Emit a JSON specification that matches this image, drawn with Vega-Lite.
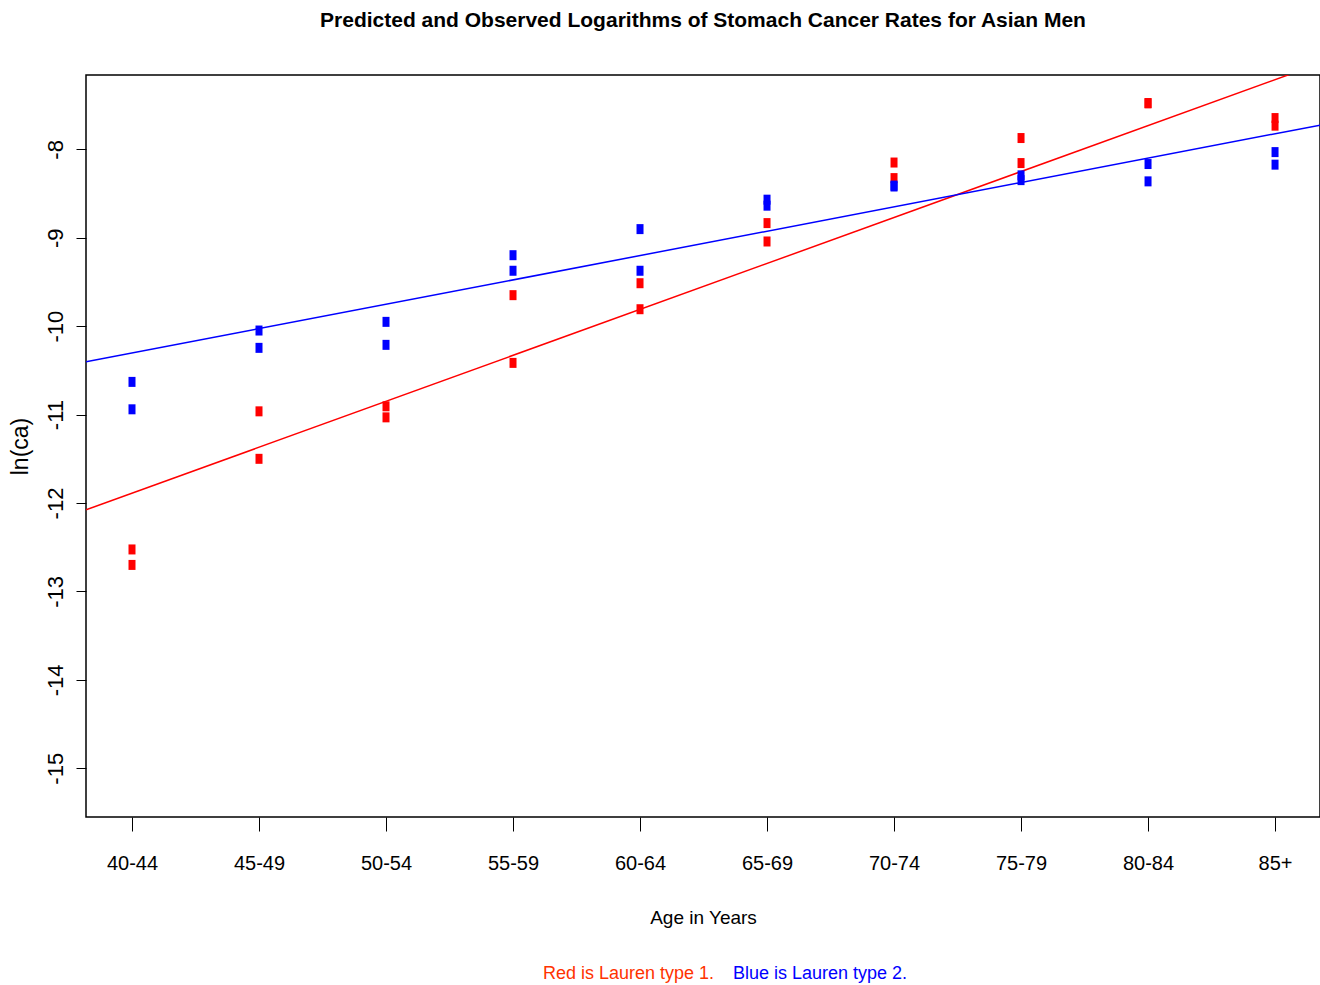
{
  "$schema": "https://vega.github.io/schema/vega-lite/v6.json",
  "autosize": {"type": "none"},
  "width": 1234,
  "height": 742,
  "padding": {"left": 86, "top": 75, "right": 0, "bottom": 168},
  "background": "white",
  "config": {
    "view": {"stroke": "black", "strokeWidth": 1.5},
    "axis": {"grid": false, "domain": false, "tickColor": "black", "tickWidth": 1, "labelColor": "black", "titleColor": "black"}
  },
  "title": {
    "text": "Predicted and Observed Logarithms of Stomach Cancer Rates for Asian Men",
    "font": "Liberation Sans",
    "fontWeight": "bold",
    "fontSize": 21,
    "color": "black",
    "anchor": "middle",
    "baseline": "bottom",
    "offset": 23
  },
  "datasets": {
    "obs": [
      {"idx": 1, "age": "40-44", "type": "1", "lnca": -12.525},
      {"idx": 1, "age": "40-44", "type": "1", "lnca": -12.70},
      {"idx": 1, "age": "40-44", "type": "2", "lnca": -10.63},
      {"idx": 1, "age": "40-44", "type": "2", "lnca": -10.94},
      {"idx": 2, "age": "45-49", "type": "1", "lnca": -10.963},
      {"idx": 2, "age": "45-49", "type": "1", "lnca": -11.50},
      {"idx": 2, "age": "45-49", "type": "2", "lnca": -10.049},
      {"idx": 2, "age": "45-49", "type": "2", "lnca": -10.245},
      {"idx": 3, "age": "50-54", "type": "1", "lnca": -10.906},
      {"idx": 3, "age": "50-54", "type": "1", "lnca": -11.031},
      {"idx": 3, "age": "50-54", "type": "2", "lnca": -9.951},
      {"idx": 3, "age": "50-54", "type": "2", "lnca": -10.211},
      {"idx": 4, "age": "55-59", "type": "1", "lnca": -9.649},
      {"idx": 4, "age": "55-59", "type": "1", "lnca": -10.415},
      {"idx": 4, "age": "55-59", "type": "2", "lnca": -9.197},
      {"idx": 4, "age": "55-59", "type": "2", "lnca": -9.373},
      {"idx": 5, "age": "60-64", "type": "1", "lnca": -9.514},
      {"idx": 5, "age": "60-64", "type": "1", "lnca": -9.808},
      {"idx": 5, "age": "60-64", "type": "2", "lnca": -8.902},
      {"idx": 5, "age": "60-64", "type": "2", "lnca": -9.373},
      {"idx": 6, "age": "65-69", "type": "1", "lnca": -8.834},
      {"idx": 6, "age": "65-69", "type": "1", "lnca": -9.042},
      {"idx": 6, "age": "65-69", "type": "2", "lnca": -8.569},
      {"idx": 6, "age": "65-69", "type": "2", "lnca": -8.637},
      {"idx": 7, "age": "70-74", "type": "1", "lnca": -8.149},
      {"idx": 7, "age": "70-74", "type": "1", "lnca": -8.325},
      {"idx": 7, "age": "70-74", "type": "2", "lnca": -8.41},
      {"idx": 7, "age": "70-74", "type": "2", "lnca": -8.42},
      {"idx": 8, "age": "75-79", "type": "1", "lnca": -7.872},
      {"idx": 8, "age": "75-79", "type": "1", "lnca": -8.155},
      {"idx": 8, "age": "75-79", "type": "2", "lnca": -8.294},
      {"idx": 8, "age": "75-79", "type": "2", "lnca": -8.348},
      {"idx": 9, "age": "80-84", "type": "1", "lnca": -7.476},
      {"idx": 9, "age": "80-84", "type": "1", "lnca": -7.48},
      {"idx": 9, "age": "80-84", "type": "2", "lnca": -8.166},
      {"idx": 9, "age": "80-84", "type": "2", "lnca": -8.362},
      {"idx": 10, "age": "85+", "type": "1", "lnca": -7.646},
      {"idx": 10, "age": "85+", "type": "1", "lnca": -7.732},
      {"idx": 10, "age": "85+", "type": "2", "lnca": -8.031},
      {"idx": 10, "age": "85+", "type": "2", "lnca": -8.173}
    ],
    "fit": [
      {"idx": 0.6378, "type": "1", "lnca": -12.077},
      {"idx": 10.354, "type": "1", "lnca": -7.028},
      {"idx": 0.6378, "type": "2", "lnca": -10.403},
      {"idx": 10.354, "type": "2", "lnca": -7.726}
    ]
  },
  "encoding": {
    "x": {
      "field": "idx",
      "type": "quantitative",
      "scale": {"domain": [0.6378, 10.354], "nice": false, "zero": false},
      "axis": {
        "title": "Age in Years",
        "values": [1, 2, 3, 4, 5, 6, 7, 8, 9, 10],
        "labelExpr": "['40-44','45-49','50-54','55-59','60-64','65-69','70-74','75-79','80-84','85+'][datum.value - 1]",
        "tickSize": 14,
        "labelPadding": 22,
        "labelFont": "Liberation Sans",
        "labelFontSize": 20,
        "labelFlush": false,
        "labelOverlap": false,
        "titleFont": "Liberation Sans",
        "titleFontSize": 19,
        "titleFontWeight": "normal",
        "titlePadding": 35
      }
    },
    "y": {
      "field": "lnca",
      "type": "quantitative",
      "scale": {"domain": [-15.551, -7.159], "nice": false, "zero": false},
      "axis": {
        "title": "ln(ca)",
        "values": [-15, -14, -13, -12, -11, -10, -9, -8],
        "labelExpr": "datum.value + ''",
        "labelAngle": -90,
        "labelAlign": "center",
        "labelBaseline": "bottom",
        "tickSize": 10,
        "labelPadding": 9,
        "labelFont": "Liberation Sans",
        "labelFontSize": 22,
        "labelFlush": false,
        "labelOverlap": false,
        "titleFont": "Liberation Sans",
        "titleFontSize": 23,
        "titleFontWeight": "normal",
        "titlePadding": 12
      }
    },
    "color": {
      "field": "type",
      "type": "nominal",
      "scale": {"domain": ["1", "2"], "range": ["#ff0000", "#0000ff"]},
      "legend": {
        "orient": "none",
        "legendX": 439,
        "legendY": 890,
        "direction": "horizontal",
        "title": null,
        "labelExpr": "datum.value == '1' ? 'Red is Lauren type 1.' : 'Blue is Lauren type 2.'",
        "labelFont": "Liberation Sans",
        "labelFontSize": 18,
        "labelLimit": 400,
        "labelOffset": 0,
        "symbolSize": 0,
        "symbolOpacity": 0,
        "symbolStrokeWidth": 0,
        "columnPadding": -14,
        "encode": {
          "labels": {"update": {"fill": {"signal": "datum.value == '1' ? '#ff3300' : '#0000ff'"}}}
        }
      }
    }
  },
  "layer": [
    {
      "data": {"name": "fit"},
      "mark": {"type": "line", "strokeWidth": 1.5, "clip": true}
    },
    {
      "data": {"name": "obs"},
      "mark": {"type": "point", "shape": "M-0.7,-1H0.7V1H-0.7Z", "filled": true, "size": 100, "opacity": 1, "strokeWidth": 0}
    }
  ]
}
